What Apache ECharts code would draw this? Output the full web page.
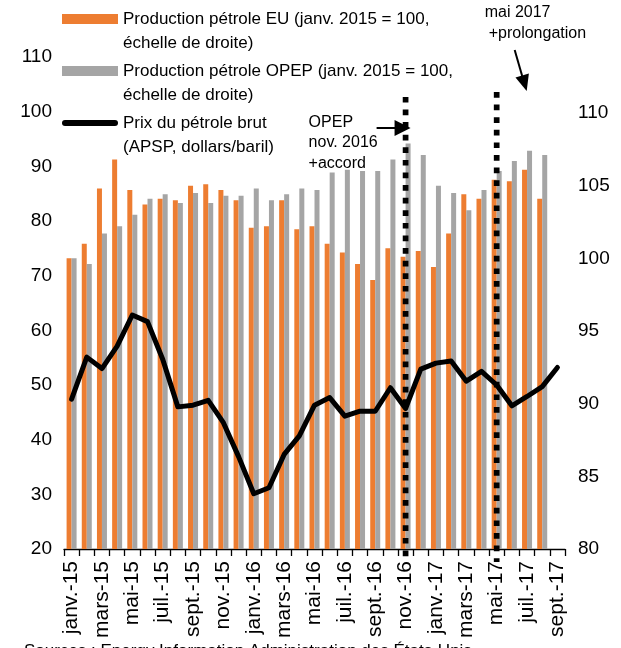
<!DOCTYPE html>
<html>
<head>
<meta charset="utf-8">
<script src="https://cdn.jsdelivr.net/npm/echarts@6/dist/echarts.min.js"></script>
<style>
  html, body { margin: 0; padding: 0; background: #fff; }
  #chart { width: 621px; height: 648px; }
</style>
</head>
<body>
<div id="chart"></div>
<script>
// mois, janv. 2015 -> sept. 2017
const months = [
  'janv.-15', 'févr.-15', 'mars-15', 'avr.-15', 'mai-15', 'juin-15', 'juil.-15', 'août-15', 'sept.-15', 'oct.-15', 'nov.-15', 'déc.-15',
  'janv.-16', 'févr.-16', 'mars-16', 'avr.-16', 'mai-16', 'juin-16', 'juil.-16', 'août-16', 'sept.-16', 'oct.-16', 'nov.-16', 'déc.-16',
  'janv.-17', 'févr.-17', 'mars-17', 'avr.-17', 'mai-17', 'juin-17', 'juil.-17', 'août-17', 'sept.-17'
];

// production EU (janv. 2015 = 100), échelle de droite
const prodEU = [
  100.0, 101.0, 104.8, 106.8, 104.7, 103.7, 104.1, 104.0, 105.0, 105.1, 104.7, 104.0,
  102.1, 102.2, 104.0, 102.0, 102.2, 101.0, 100.4, 99.6, 98.5, 100.7, 100.1, 100.5,
  99.4, 101.7, 104.4, 104.1, 105.4, 105.3, 106.1, 104.1, null
];

// production OPEP (janv. 2015 = 100), échelle de droite
const prodOPEP = [
  100.0, 99.6, 101.7, 102.2, 103.0, 104.1, 104.4, 103.8, 104.5, 103.8, 104.3, 104.3,
  104.8, 104.0, 104.4, 104.8, 104.7, 105.9, 106.1, 106.0, 106.0, 106.8, 107.9, 107.1,
  105.0, 104.5, 103.3, 104.7, 106.0, 106.7, 107.4, 107.1, null
];

// prix du pétrole brut (APSP, dollars/baril), échelle de gauche
const prixBrut = [
  47.4, 55.1, 53.0, 57.1, 62.8, 61.6, 54.7, 46.0, 46.3, 47.2, 43.1, 36.9,
  30.1, 31.2, 37.3, 40.7, 46.3, 47.7, 44.3, 45.2, 45.2, 49.5, 45.7, 52.9,
  54.0, 54.4, 50.7, 52.5, 50.0, 46.2, 47.9, 49.7, 53.2
];

// événements annotés
const evtAccord = 'nov.-16';
const evtProlong = 'mai-17';

const FONT = 'Liberation Sans, Arial, sans-serif';
const ORANGE = '#ED7D31';
const GRAY = '#A5A5A5';

const nameEU = 'Production pétrole EU (janv. 2015 = 100,\néchelle de droite)';
const nameOPEP = 'Production pétrole OPEP (janv. 2015 = 100,\néchelle de droite)';
const namePrix = 'Prix du pétrole brut\n(APSP, dollars/baril)';

const chart = echarts.init(document.getElementById('chart'), null, { renderer: 'canvas' });

chart.setOption({
  animation: false,
  backgroundColor: '#fff',
  textStyle: { fontFamily: FONT },
  grid: { left: 64, right: 56, top: 57, bottom: 99 },
  legend: {
    orient: 'vertical',
    left: 57,
    top: -22,
    itemWidth: 56,
    itemHeight: 10,
    itemGap: -20,
    selectedMode: false,
    // ligne vide en tête : l'icône s'aligne sur la première ligne du texte
    formatter: name => ' \n' + name,
    textStyle: { fontFamily: FONT, fontSize: 17, color: '#000', lineHeight: 24 },
    data: [
      { name: nameEU, icon: 'rect' },
      { name: nameOPEP, icon: 'rect' },
      { name: namePrix, icon: 'path://M3,0 L53,0 A3,3 0 0 1 53,6 L3,6 A3,3 0 0 1 3,0 Z' }
    ]
  },
  xAxis: {
    type: 'category',
    data: months,
    boundaryGap: true,
    axisLine: { lineStyle: { color: '#000', width: 1.3 } },
    axisTick: { show: true, interval: 0, length: 7, lineStyle: { color: '#000', width: 1.3 } },
    axisLabel: { interval: 1, rotate: 90, margin: 12, fontSize: 21, color: '#000', fontFamily: FONT }
  },
  yAxis: [
    {
      type: 'value',
      min: 20,
      max: 110,
      interval: 10,
      position: 'left',
      axisLine: { show: false },
      axisTick: { show: false },
      splitLine: { show: false },
      axisLabel: { margin: 12, fontSize: 19, color: '#000', fontFamily: FONT }
    },
    {
      type: 'value',
      min: 80,
      max: 113.85,
      interval: 5,
      position: 'right',
      axisLine: { show: false },
      axisTick: { show: false },
      splitLine: { show: false },
      axisLabel: { margin: 13, fontSize: 19, color: '#000', fontFamily: FONT, showMaxLabel: false }
    }
  ],
  series: [
    {
      name: nameEU,
      type: 'bar',
      yAxisIndex: 1,
      data: prodEU,
      barWidth: 5,
      barGap: '0%',
      itemStyle: { color: ORANGE }
    },
    {
      name: nameOPEP,
      type: 'bar',
      yAxisIndex: 1,
      data: prodOPEP,
      barWidth: 5,
      itemStyle: { color: GRAY }
    },
    {
      name: namePrix,
      type: 'line',
      yAxisIndex: 0,
      data: prixBrut,
      symbol: 'none',
      z: 5,
      lineStyle: { color: '#000', width: 5, cap: 'round', join: 'round' },
      itemStyle: { color: '#000' }
    }
  ]
});

// lignes pointillées et annotations, placées à partir des axes
const toPx = (cat, v) => chart.convertToPixel({ xAxisIndex: 0, yAxisIndex: 0 }, [cat, v]);
const a1Top = toPx(evtAccord, 102.7);
const a1Bot = toPx(evtAccord, 17.6);
const a2Top = toPx(evtProlong, 103.6);
const a2Bot = toPx(evtProlong, 17.6);
const x1 = a1Top[0];
const x2 = a2Top[0];

const dotted = { stroke: '#000', lineWidth: 5.7, lineDash: [5.7, 6.9] };
const txt = (x, y, text) => ({
  type: 'text', z: 20, x: x, y: y,
  style: { text: text, font: '16px ' + FONT, fill: '#000', verticalAlign: 'middle' }
});

chart.setOption({
  graphic: [
    { type: 'line', z: 20, shape: { x1: x1, y1: a1Top[1], x2: x1, y2: a1Bot[1] }, style: dotted },
    { type: 'line', z: 20, shape: { x1: x2, y1: a2Top[1], x2: x2, y2: a2Bot[1] }, style: dotted },
    txt(x1 - 97, 123, 'OPEP'),
    txt(x1 - 97, 143, 'nov. 2016'),
    txt(x1 - 97, 164, '+accord'),
    { type: 'line', z: 20, shape: { x1: x1 - 29, y1: 128, x2: x1 - 8, y2: 128 }, style: { stroke: '#000', lineWidth: 2 } },
    { type: 'polygon', z: 20, shape: { points: [[x1 - 11, 120], [x1 + 5, 128], [x1 - 11, 136]] }, style: { fill: '#000' } },
    txt(x2 - 12, 13, 'mai 2017'),
    txt(x2 - 8, 34, '+prolongation'),
    { type: 'line', z: 20, shape: { x1: x2 + 18, y1: 50, x2: x2 + 25.5, y2: 76 }, style: { stroke: '#000', lineWidth: 2 } },
    { type: 'polygon', z: 20, shape: { points: [[x2 + 18.8, 77.6], [x2 + 30, 91], [x2 + 32.2, 73.6]] }, style: { fill: '#000' } },
    {
      type: 'text', z: 20, x: 24, y: 643,
      style: { text: 'Sources : Energy Information Administration des États-Unis', font: '17px ' + FONT, fill: '#000', verticalAlign: 'top' }
    }
  ]
});
</script>
</body>
</html>
